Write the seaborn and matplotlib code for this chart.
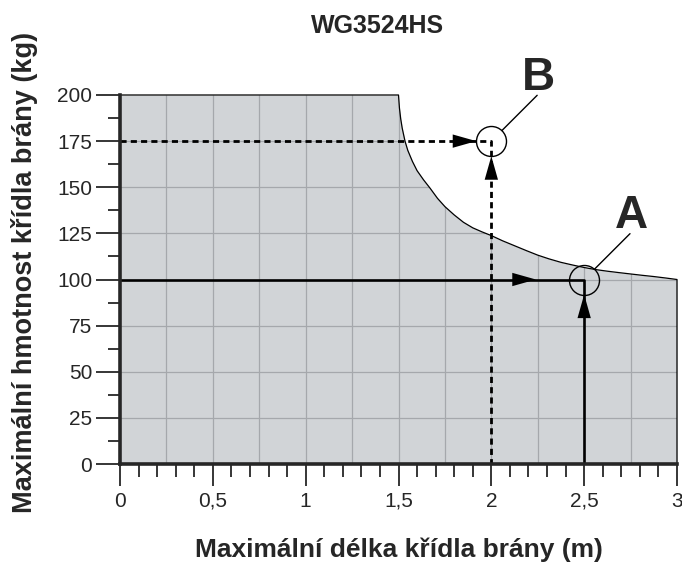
import numpy as np
import matplotlib
matplotlib.use("Agg")
import matplotlib.pyplot as plt
from matplotlib.patches import Polygon, ArrowStyle
from matplotlib.ticker import MultipleLocator, FixedLocator, FixedFormatter
import seaborn as sns

# boundary of the allowed area (gate leaf length vs weight)
length_m = [0.0, 1.5, 1.505, 1.512, 1.52, 1.535, 1.55, 1.575, 1.6, 1.635, 1.67,
            1.71, 1.75, 1.8, 1.85, 1.9, 1.95, 2.0, 2.06, 2.125, 2.19, 2.25,
            2.31, 2.375, 2.44, 2.5, 2.56, 2.625, 2.69, 2.75, 2.81, 2.875,
            2.94, 3.0]
weight_kg = [200, 200, 193, 187, 182, 175, 170, 164, 159, 154, 149.5,
             144, 139.5, 135, 131, 128, 125.8, 123.8, 121, 118.3, 115.6, 113.2,
             111.2, 109.3, 107.8, 106.5, 105.4, 104.5, 103.7, 103, 102.3, 101.6,
             100.8, 100]

x_ticks = [0, 0.5, 1, 1.5, 2, 2.5, 3]
x_ticklabels = ["0", "0,5", "1", "1,5", "2", "2,5", "3"]
y_ticks = [0, 25, 50, 75, 100, 125, 150, 175, 200]

# example points A and B
point_A = (2.5, 100)
point_B = (2.0, 175)
arrow_A_head_x = 2.24

title = "WG3524HS"
x_label = "Maximální délka křídla brány (m)"
y_label = "Maximální hmotnost křídla brány (kg)"

sns.set_style("ticks")
plt.rcParams["font.family"] = ["Liberation Sans", "DejaVu Sans"]

fig = plt.figure(figsize=(6.82, 5.64), dpi=100)
ax = fig.add_axes([120 / 682, 100 / 564, 557 / 682, 369 / 564])
ax.set_facecolor("none")

fill_color = "#d1d4d7"
ax.fill_between(length_m, 0, weight_kg, color=fill_color, lw=0, zorder=1)
poly = Polygon(list(zip(length_m, weight_kg)) + [(3, 0), (0, 0)],
               closed=True, transform=ax.transData, fc="none", ec="none")
ax.add_patch(poly)

# grid only inside the filled area
vl = ax.vlines(np.arange(0.25, 3, 0.25), 0, 200, color="#a5a8ac", lw=0.9, zorder=1.5)
hl = ax.hlines(np.arange(25, 200, 25), 0, 3, color="#a5a8ac", lw=0.9, zorder=1.5)
vl.set_clip_path(poly)
hl.set_clip_path(poly)

# boundary outline (top, curve, right side)
sns.lineplot(x=length_m + [3.0], y=weight_kg + [0], sort=False, estimator=None,
             color="black", lw=0.9, ax=ax, zorder=2, clip_on=False)

# guide lines
sns.lineplot(x=[0, point_A[0], point_A[0]], y=[point_A[1], point_A[1], 0],
             sort=False, estimator=None, color="black", lw=1.9, ax=ax, zorder=3)
ax.plot([0, point_B[0], point_B[0]], [point_B[1], point_B[1], 0],
        color="black", lw=2.0, dashes=(2.2, 1.5), zorder=3)

head = ArrowStyle("-|>", head_length=17, head_width=4.8)
r_pt = 10.8


def arrow_head(xy, dxdy, shrink):
    ax.annotate("", xy=xy, xytext=dxdy, textcoords="offset points",
                arrowprops=dict(arrowstyle=head, mutation_scale=1, lw=0,
                                fc="black", shrinkA=0, shrinkB=shrink),
                zorder=4)


arrow_head(point_B, (-50, 0), r_pt)
arrow_head(point_B, (0, -50), r_pt)
arrow_head(point_A, (0, -50), r_pt)
arrow_head((arrow_A_head_x, point_A[1]), (-50, 0), 0)

# circles with leader lines and letters
for pt, name in [(point_A, "A"), (point_B, "B")]:
    ax.plot([pt[0]], [pt[1]], marker="o", ms=21.6, mfc="none", mec="black",
            mew=1.0, zorder=5, clip_on=False)
    ax.annotate("", xy=pt, xytext=(33, 33), textcoords="offset points",
                arrowprops=dict(arrowstyle="-", lw=1.0, color="black",
                                shrinkA=0, shrinkB=r_pt), zorder=5)
    ax.annotate(name, xy=pt, xytext=(34, 37), textcoords="offset points",
                ha="center", va="baseline", fontsize=33, fontweight="bold",
                annotation_clip=False)

ax.set_xlim(0, 3)
ax.set_ylim(0, 200)
ax.xaxis.set_major_locator(FixedLocator(x_ticks))
ax.xaxis.set_major_formatter(FixedFormatter(x_ticklabels))
ax.xaxis.set_minor_locator(MultipleLocator(0.1))
ax.yaxis.set_major_locator(FixedLocator(y_ticks))
ax.yaxis.set_minor_locator(MultipleLocator(12.5))

sns.despine(ax=ax)
for s in ["left", "bottom"]:
    ax.spines[s].set_linewidth(2.6)
    ax.spines[s].set_zorder(6)
ax.tick_params(axis="both", which="major", direction="out", width=1.1,
               labelsize=15, color="black")
ax.tick_params(axis="y", which="major", length=17, pad=3)
ax.tick_params(axis="x", which="major", length=16, pad=4)
ax.tick_params(axis="both", which="minor", direction="out", width=1.1,
               length=9, color="black")

ax.set_xlabel(x_label, fontsize=19, fontweight="bold", labelpad=19)
ax.set_ylabel(y_label, fontsize=19.5, fontweight="bold", labelpad=14)
ax.yaxis.label.set_y(0.518)
fig.text(377.5 / 682, 1 - 33 / 564, title, fontsize=18, fontweight="bold",
         ha="center", va="baseline")

fig.savefig("out.png", dpi=100)
